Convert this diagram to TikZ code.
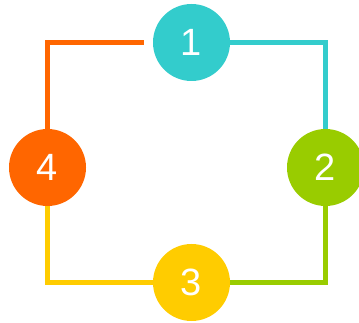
\documentclass[tikz,border=0pt]{standalone}
\usepackage{fontspec}
\setmainfont{Liberation Sans}
\usetikzlibrary{backgrounds}
\definecolor{cteal}{HTML}{33CCCC}
\definecolor{cgreen}{HTML}{99CC00}
\definecolor{cyellow}{HTML}{FFCC00}
\definecolor{corange}{HTML}{FF6600}
\begin{document}
\begin{tikzpicture}[x=1pt,y=-1pt,
  num/.style={circle,minimum size=77pt,inner sep=0pt,text=white,font=\fontsize{38}{40}\selectfont},
  link/.style={line width=4.5pt,line join=miter}]
\useasboundingbox (0,0) rectangle (359,323);
\clip (0,0) rectangle (359,323);
\node[num,fill=cteal] (n1) at (191.5,42.5) {1};
\node[num,fill=cgreen] (n2) at (325.5,167.5) {2};
\node[num,fill=cyellow] (n3) at (191.5,282.5) {3};
\node[num,fill=corange] (n4) at (47.5,167.5) {4};
\coordinate (c41) at (47.5,42.5);
\coordinate (e4) at (143.5,42.5);
\coordinate (c12) at (325.5,42.5);
\coordinate (c23) at (325.5,282.5);
\coordinate (c34) at (47.5,282.5);
\begin{scope}[on background layer]
\draw[link,corange] (n4.center) -- (c41) -- (e4);
\draw[link,cteal] (n1.center) -- (c12) -- (n2.center);
\draw[link,cgreen] (n2.center) -- (c23) -- (n3.center);
\draw[link,cyellow] (n3.center) -- (c34) -- (n4.center);
\end{scope}
\end{tikzpicture}
\end{document}
